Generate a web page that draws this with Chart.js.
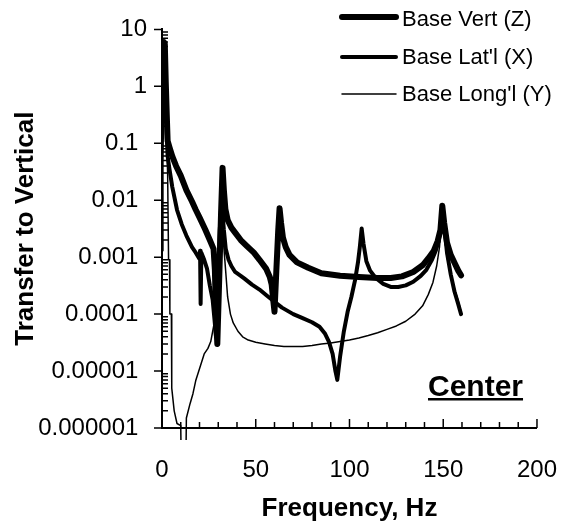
<!DOCTYPE html>
<html>
<head>
<meta charset="utf-8">
<title>Transfer to Vertical - Center</title>
<script src="https://cdn.jsdelivr.net/npm/chart.js@4.4.1/dist/chart.umd.min.js"></script>
<style>
  body { margin: 0; background: #fff; }
  #chart { display: block; }
</style>
</head>
<body>
<canvas id="chart" width="585" height="525"></canvas>
<script>
// Values (frequency in Hz, transfer ratio)
var vertFreq = [0, 0.5, 1, 1.5, 2, 2.5, 3, 4, 5.5, 7.5, 10, 13, 16, 18, 20, 23, 25.5, 27.5, 28.2, 28.8, 29.5, 30.5, 31.5, 32.3, 33, 33.8, 35, 37, 39, 42, 45, 49, 52, 55.5, 57.5, 58.5, 59.3, 60, 61, 62, 62.7, 63.5, 64.5, 66, 68, 72, 78, 85, 95, 105, 115, 122, 128, 134, 139, 142, 145, 147, 148.5, 149.5, 150.5, 152, 154, 156, 158, 159.5];
var vertVal = [1, 2.5, 6, 5.5, 1.2, 0.35, 0.11, 0.085, 0.059, 0.04, 0.027, 0.015, 0.0095, 0.0068, 0.005, 0.0031, 0.002, 0.0014, 0.0006, 0.0001, 0.00003, 0.0004, 0.006, 0.037, 0.015, 0.007, 0.0045, 0.0033, 0.0027, 0.002, 0.0016, 0.0012, 0.0009, 0.00063, 0.00045, 0.00033, 0.00018, 0.00011, 0.0006, 0.003, 0.0072, 0.004, 0.0022, 0.0015, 0.0011, 0.00081, 0.00065, 0.00052, 0.00047, 0.00045, 0.00043, 0.00043, 0.00046, 0.00055, 0.00072, 0.00095, 0.0013, 0.0019, 0.003, 0.008, 0.004, 0.0018, 0.0011, 0.0008, 0.00058, 0.00048];

var latFreq = [0, 0.5, 1, 1.5, 2, 2.5, 3, 4, 5.5, 8, 10.5, 13, 16, 18, 20, 20.3, 20.6, 21, 22.5, 24, 25.5, 27, 28, 28.8, 29.8, 30.8, 31.5, 32.3, 33, 34, 35.5, 37, 39, 42, 44, 48, 52, 56, 60, 64, 70, 75, 80, 84, 87, 89, 91, 92.5, 93.5, 95, 97, 99, 101, 103, 104.5, 105.5, 106.5, 107.5, 109, 111, 114, 118, 122, 126, 130, 134, 138, 141, 144, 146, 147.5, 148.5, 149.5, 150.5, 152, 154, 156, 158, 159.5];
var latVal = [0.8, 3, 5, 2, 0.5, 0.15, 0.059, 0.035, 0.017, 0.0068, 0.0038, 0.0024, 0.0015, 0.0012, 0.00093, 0.0013, 0.00015, 0.0012, 0.0009, 0.00063, 0.00032, 0.00018, 0.00008, 0.00004, 0.0004, 0.003, 0.007, 0.006, 0.003, 0.0014, 0.0009, 0.0007, 0.00055, 0.00047, 0.00042, 0.00033, 0.00027, 0.00021, 0.000165, 0.00013, 0.0001, 0.000085, 0.000072, 0.00006, 0.000045, 0.000033, 0.00002, 0.00001, 0.000007, 0.000018, 0.00005, 0.00011, 0.0002, 0.0004, 0.0008, 0.0015, 0.0032, 0.0017, 0.00085, 0.00058, 0.00043, 0.00034, 0.0003, 0.0003, 0.00032, 0.00037, 0.00047, 0.0006, 0.0009, 0.0013, 0.0019, 0.003, 0.008, 0.0035, 0.0012, 0.0005, 0.00025, 0.00015, 0.0001];

var longFreq = [0, 0.5, 1, 1.5, 2, 2.5, 3, 3.5, 4, 4.2, 5, 5.2, 6.5, 8, 10, 10.5, 12.5, 13, 15, 16.5, 18, 20, 22.5, 24.5, 26, 27.5, 29, 30, 30.8, 31.5, 32.3, 33.2, 34, 35, 36.5, 38, 40.5, 43, 46, 50, 55, 60, 65, 70, 75, 80, 85, 90, 95, 100, 105, 110, 115, 120, 125, 130, 135, 139, 142, 144.5, 146.5, 148, 149.5, 150.5, 152, 154, 156, 158, 159.5];
var longVal = [0.0013, 0.05, 0.8, 1.2, 0.3, 0.1, 0.03, 0.0009, 0.0009, 0.0001, 0.0001, 0.000005, 0.000002, 0.0000012, 0.0000011, 0.00000005, 0.00000005, 0.0000015, 0.0000027, 0.000004, 0.0000068, 0.000011, 0.00002, 0.000025, 0.000033, 0.00006, 0.00011, 0.0004, 0.002, 0.006, 0.003, 0.0012, 0.00055, 0.0002, 0.0001, 0.00007, 0.00005, 0.00004, 0.000035, 0.000032, 0.00003, 0.000028, 0.000027, 0.000027, 0.000027, 0.000028, 0.00003, 0.000031, 0.000033, 0.000035, 0.000038, 0.000042, 0.000047, 0.000054, 0.000062, 0.000075, 0.0001, 0.00014, 0.00022, 0.00036, 0.0007, 0.0015, 0.006, 0.0025, 0.001, 0.0005, 0.00028, 0.00017, 0.00011];

var seriesNames = ["Base Vert (Z)", "Base Lat'l (X)", "Base Long'l (Y)"];
var yTickVals = [0.000001, 0.00001, 0.0001, 0.001, 0.01, 0.1, 1, 10];
var yTickLabels = ["0.000001", "0.00001", "0.0001", "0.001", "0.01", "0.1", "1", "10"];
var xTickVals = [0, 50, 100, 150, 200];

function toPoints(freqs, vals) {
    return freqs.map(function (f, i) {
        return { x: f, y: vals[i] };
    });
}

Chart.defaults.font.family = "'Liberation Sans', Arial, sans-serif";
Chart.defaults.color = '#000';

// ticks, legend and the "Center" label
var extrasPlugin = {
    id: 'extras',
    afterDraw: function (chart) {
        var ctx = chart.ctx;
        var xs = chart.scales.x;
        var ys = chart.scales.y;
        var area = chart.chartArea;

        ctx.save();
        ctx.strokeStyle = '#000';
        ctx.lineWidth = 1.5;
        ctx.beginPath();
        yTickVals.forEach(function (v) {
            var py = ys.getPixelForValue(v);
            ctx.moveTo(area.left - 8, py);
            ctx.lineTo(area.left, py);
        });
        for (var d = 0; d < yTickVals.length - 1; d++) {
            for (var k = 2; k <= 9; k++) {
                var my = ys.getPixelForValue(yTickVals[d] * k);
                ctx.moveTo(area.left, my);
                ctx.lineTo(area.left + 6, my);
            }
        }
        for (var f = 10; f <= xTickVals[xTickVals.length - 1]; f += 10) {
            var px = xs.getPixelForValue(f);
            var len = (xTickVals.indexOf(f) >= 0) ? 9 : 6;
            ctx.moveTo(px, area.bottom);
            ctx.lineTo(px, area.bottom - len);
        }
        ctx.stroke();

        // legend
        var rows = [17, 57, 94];
        ctx.font = "22px 'Liberation Sans', Arial, sans-serif";
        ctx.textBaseline = 'middle';
        ctx.textAlign = 'left';
        ctx.fillStyle = '#000';
        chart.data.datasets.forEach(function (ds, i) {
            ctx.lineWidth = ds.borderWidth;
            ctx.lineCap = 'round';
            ctx.beginPath();
            ctx.moveTo(342, rows[i]);
            ctx.lineTo(396, rows[i]);
            ctx.stroke();
            ctx.fillText(ds.label, 402, rows[i] + (i === 0 ? 3 : 1));
        });

        // "Center" label, underlined
        ctx.font = "bold 30px 'Liberation Sans', Arial, sans-serif";
        ctx.textBaseline = 'alphabetic';
        ctx.textAlign = 'left';
        var w = ctx.measureText('Center').width;
        ctx.fillText('Center', 428, 396);
        ctx.fillRect(428, 398, w, 2.5);
        ctx.restore();
    }
};

var ctx = document.getElementById('chart').getContext('2d');
new Chart(ctx, {
    type: 'line',
    data: {
        datasets: [
            {
                label: seriesNames[0],
                data: toPoints(vertFreq, vertVal),
                borderColor: '#000',
                borderWidth: 6
            },
            {
                label: seriesNames[1],
                data: toPoints(latFreq, latVal),
                borderColor: '#000',
                borderWidth: 4
            },
            {
                label: seriesNames[2],
                data: toPoints(longFreq, longVal),
                borderColor: '#000',
                borderWidth: 1.5
            }
        ]
    },
    options: {
        responsive: false,
        animation: false,
        devicePixelRatio: 1,
        layout: { padding: { top: 25, right: 24, left: 0, bottom: 0 } },
        elements: {
            point: { radius: 0 },
            line: { tension: 0, borderJoinStyle: 'round', borderCapStyle: 'round', fill: false }
        },
        datasets: {
            line: { clip: { left: 0, top: 6, right: 0, bottom: 12 } }
        },
        plugins: {
            legend: { display: false },
            tooltip: { enabled: false }
        },
        scales: {
            x: {
                type: 'linear',
                min: 0,
                max: 200,
                afterBuildTicks: function (scale) {
                    scale.ticks = xTickVals.map(function (v) { return { value: v }; });
                },
                afterFit: function (scale) { scale.height = 97; },
                grid: { display: false, drawTicks: false },
                border: { display: true, color: '#000', width: 2 },
                ticks: { font: { size: 24 }, padding: 28, maxRotation: 0 },
                title: {
                    display: true,
                    text: 'Frequency, Hz',
                    font: { size: 26, weight: 'bold' },
                    padding: { top: 0, bottom: 1 }
                }
            },
            y: {
                type: 'logarithmic',
                min: 0.000001,
                max: 10,
                afterBuildTicks: function (scale) {
                    scale.ticks = yTickVals.map(function (v) { return { value: v }; });
                },
                afterFit: function (scale) { scale.width = 162; },
                grid: { display: false, drawTicks: false },
                border: { display: true, color: '#000', width: 2 },
                ticks: {
                    autoSkip: false,
                    font: { size: 24 },
                    padding: 15,
                    callback: function (value) {
                        var i = yTickVals.indexOf(value);
                        if (i < 0) return '';
                        // decimals sit a little further left than the whole numbers
                        return value < 1 ? yTickLabels[i] + '\u2008\u200A' : yTickLabels[i];
                    }
                },
                title: {
                    display: true,
                    text: 'Transfer to Vertical',
                    font: { size: 26, weight: 'bold' },
                    padding: { top: 10, bottom: 0 }
                }
            }
        }
    },
    plugins: [extrasPlugin]
});
</script>
</body>
</html>
